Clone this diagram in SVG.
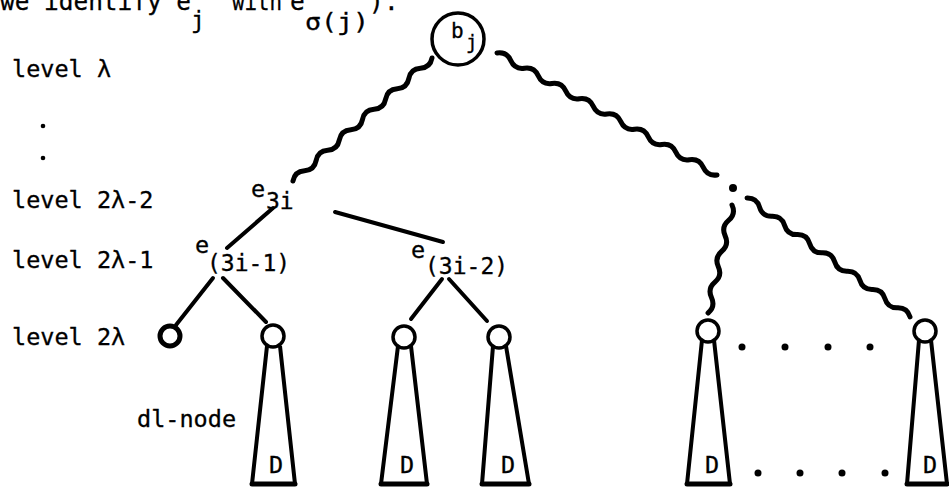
<svg xmlns="http://www.w3.org/2000/svg" width="949" height="489" viewBox="0 0 949 489">
<style>
text{font-family:"DejaVu Sans Mono","Liberation Mono",monospace;fill:#000;stroke:#000;stroke-width:0.3}
.t{font-size:23.5px}
.s{font-size:23px}
.c{font-size:24.5px}
.wave{fill:none;stroke:#000;stroke-width:5;stroke-linecap:round;stroke-linejoin:round}
.edge{stroke:#000;stroke-width:4;stroke-linecap:round}
.leaf{fill:#fff;stroke:#000;stroke-width:3.5}
.tri{fill:#fff;stroke:#000;stroke-width:4;stroke-linejoin:round}
.base{stroke:#000;stroke-width:5;stroke-linecap:round}
.dot{fill:#000}
</style>
<rect width="949" height="489" fill="#fff"/>
<g id="caption">
<text x="0" y="10" class="c" textLength="191" lengthAdjust="spacingAndGlyphs">we identify e</text>
<text x="191" y="28" class="s">j</text>
<text x="232" y="10" class="c" textLength="50" lengthAdjust="spacingAndGlyphs">with</text>
<text x="290" y="10" class="c">e</text>
<text x="305" y="30" class="s" textLength="64" lengthAdjust="spacingAndGlyphs">σ(j)</text>
<text x="369" y="10" class="c">)</text>
<text x="384" y="10" class="c">.</text>
</g>
<g id="levels">
<text x="12" y="77" class="t">level λ</text>
<circle cx="43" cy="126" r="2.3" class="dot"/>
<circle cx="43" cy="158" r="2.3" class="dot"/>
<text x="12" y="208" class="t">level 2λ-2</text>
<text x="12" y="268" class="t">level 2λ-1</text>
<text x="12" y="345" class="t">level 2λ</text>
<text x="137" y="427" class="t">dl-node</text>
</g>
<g id="connectors">
<path class="wave" transform="translate(432,58) rotate(138.5)" d="M0 0 q7.73 -6 15.47 0 t15.47 0 t15.47 0 t15.47 0 t15.47 0 t15.47 0 t15.47 0 t15.47 0 t15.47 0 t15.47 0 t15.47 0 t15.47 0"/>
<path class="wave" transform="translate(497,53) rotate(29)" d="M0 0 q7.86 -6 15.72 0 t15.72 0 t15.72 0 t15.72 0 t15.72 0 t15.72 0 t15.72 0 t15.72 0 t15.72 0 t15.72 0 t15.72 0 t15.72 0 t15.72 0 t15.72 0 t15.72 0 t15.72 0"/>
<circle cx="733" cy="188" r="4" class="dot"/>
<path class="wave" transform="translate(747,198) rotate(36.1)" d="M0 0 q7.76 -6 15.52 0 t15.52 0 t15.52 0 t15.52 0 t15.52 0 t15.52 0 t15.52 0 t15.52 0 t15.52 0 t15.52 0 t15.52 0 t15.52 0 t15.52 0"/>
<path class="wave" transform="translate(732,205) rotate(102.5)" d="M0 0 q7.9 -6 15.8 0 t15.8 0 t15.8 0 t15.8 0 t15.8 0 t15.8 0 t15.8 0"/>
<line class="edge" x1="273" y1="208" x2="227" y2="248"/>
<line class="edge" x1="335" y1="212" x2="443" y2="242"/>
<line class="edge" x1="213" y1="278" x2="176" y2="325"/>
<line class="edge" x1="223" y1="278" x2="266" y2="322"/>
<line class="edge" x1="442" y1="279" x2="411" y2="319"/>
<line class="edge" x1="449" y1="279" x2="487" y2="321"/>
</g>
<g id="b_j">
<circle cx="458" cy="39" r="26" fill="#fff" stroke="#000" stroke-width="3.5"/>
<text x="451" y="38" style="font-size:21px">b</text>
<text x="466" y="49" style="font-size:19px">j</text>
</g>
<g id="e_3i">
<text x="251" y="197" class="t">e</text>
<text x="266" y="209" class="s">3i</text>
</g>
<g id="e_3i-1">
<text x="195" y="253" class="t">e</text>
<text x="207" y="271" class="s">(3i-1)</text>
</g>
<g id="e_3i-2">
<text x="411" y="258" class="t">e</text>
<text x="425" y="274" class="s">(3i-2)</text>
</g>
<g id="leaf1">
<circle cx="170" cy="336" r="10" fill="#fff" stroke="#000" stroke-width="5"/>
</g>
<g id="leaf2">
<path class="tri" d="M267 346 L252 484 L295 484 L280 346"/>
<line class="base" x1="252" y1="484" x2="295" y2="484"/>
<circle cx="273" cy="336" r="11" class="leaf"/>
<text x="276" y="473" class="t" text-anchor="middle">D</text>
</g>
<g id="leaf3">
<path class="tri" d="M398 346 L381 484 L427 484 L411 346"/>
<line class="base" x1="381" y1="484" x2="427" y2="484"/>
<circle cx="404" cy="337" r="11" class="leaf"/>
<text x="407" y="473" class="t" text-anchor="middle">D</text>
</g>
<g id="leaf4">
<path class="tri" d="M493 346 L482 484 L529 484 L506 346"/>
<line class="base" x1="482" y1="484" x2="529" y2="484"/>
<circle cx="499" cy="337" r="11" class="leaf"/>
<text x="508" y="473" class="t" text-anchor="middle">D</text>
</g>
<g id="leaf5">
<path class="tri" d="M702 340 L687 484 L730 484 L714 340"/>
<line class="base" x1="687" y1="484" x2="730" y2="484"/>
<circle cx="708" cy="331" r="11" class="leaf"/>
<text x="712" y="473" class="t" text-anchor="middle">D</text>
</g>
<g id="leaf6">
<path class="tri" d="M919 340 L907 484 L947 484 L931 340"/>
<line class="base" x1="907" y1="484" x2="947" y2="484"/>
<circle cx="925" cy="331" r="11" class="leaf"/>
<text x="930" y="473" class="t" text-anchor="middle">D</text>
</g>
<g id="ellipses">
<circle cx="742" cy="347" r="3.5" class="dot"/>
<circle cx="785" cy="347" r="3.5" class="dot"/>
<circle cx="828" cy="347" r="3.5" class="dot"/>
<circle cx="870" cy="347" r="3.5" class="dot"/>
<circle cx="758" cy="473" r="3.5" class="dot"/>
<circle cx="800" cy="473" r="3.5" class="dot"/>
<circle cx="842" cy="473" r="3.5" class="dot"/>
<circle cx="885" cy="473" r="3.5" class="dot"/>
</g>
</svg>
